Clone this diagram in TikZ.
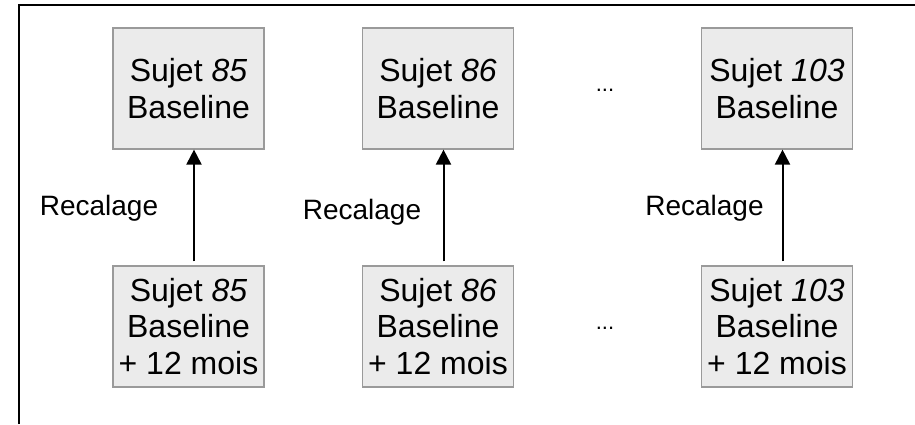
\documentclass[tikz,border=0pt]{standalone}
\usepackage{fontspec}
\setmainfont{Liberation Sans}
\usetikzlibrary{arrows.meta}
\definecolor{boxfill}{HTML}{EBEBEB}
\definecolor{boxline}{HTML}{9A9A9A}
\tikzset{
  subj/.style={draw=boxline, fill=boxfill, line width=1.2pt, minimum width=151pt, minimum height=121pt,
    inner sep=0pt, align=center, font=\fontsize{32}{36.5}\selectfont},
  lbl/.style={anchor=base, font=\fontsize{28}{32}\selectfont, inner sep=0pt},
  dots/.style={anchor=base, font=\fontsize{22}{26}\selectfont, inner sep=0pt},
  arr/.style={line width=2pt, -{Triangle[width=15pt,length=15pt]}, shorten <=4pt}
}
\begin{document}
\begin{tikzpicture}[x=1pt,y=1pt]
\useasboundingbox (0,0) rectangle (915,424);
\draw[line width=2pt] (19,0) -- (19,419) -- (915,419);
% top boxes
\node[subj] (t1) at (188.5,335.5) {Sujet \textit{85}\\Baseline};
\node[subj] (t2) at (438,335.5) {Sujet \textit{86}\\Baseline};
\node[subj] (t3) at (777,335.5) {Sujet \textit{103}\\Baseline};
% bottom boxes
\node[subj] (b1) at (188.5,97.5) {Sujet \textit{85}\\Baseline\\+ 12 mois};
\node[subj] (b2) at (438,97.5) {Sujet \textit{86}\\Baseline\\+ 12 mois};
\node[subj] (b3) at (777,97.5) {Sujet \textit{103}\\Baseline\\+ 12 mois};
% arrows
\draw[arr] ([xshift=5.5pt]b1.north) -- ([xshift=5.5pt]t1.south);
\draw[arr] ([xshift=5.5pt]b2.north) -- ([xshift=5.5pt]t2.south);
\draw[arr] ([xshift=5.5pt]b3.north) -- ([xshift=5.5pt]t3.south);
% labels
\node[lbl] (l1) at (99,209) {Recalage};
\node[lbl] (l2) at (362,205) {Recalage};
\node[lbl] (l3) at (704.5,209) {Recalage};
% dots
\node[dots] (d1) at (605,332) {...};
\node[dots] (d2) at (605,95) {...};
\end{tikzpicture}
\end{document}
